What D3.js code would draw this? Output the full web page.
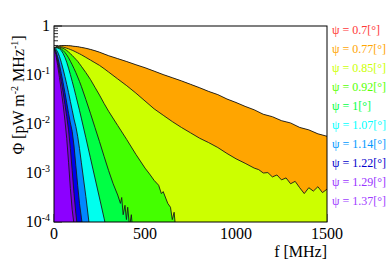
<!DOCTYPE html>
<html>
<head>
<meta charset="utf-8">
<script src="https://cdn.jsdelivr.net/npm/d3@7"></script>
<style>
  body { margin: 0; background: #fff; }
  svg { display: block; }
  text { font-family: "Liberation Serif", "DejaVu Serif", serif; }
</style>
</head>
<body>
<div id="chart"></div>
<script>
  // frequency grid [MHz] for the common low-frequency part
  var baseFreqs = [0, 10, 20, 30, 40, 50, 60, 70, 80, 90, 100, 110, 120, 130, 140, 150, 175, 200, 225, 250,
                   275, 300, 350, 400, 450, 500, 550, 600, 650, 700];

  var psiLabels = ['0.7', '0.77', '0.85', '0.92', '1', '1.07', '1.14', '1.22', '1.29', '1.37'];

  // per-series frequencies (common part + noisy tail)
  var tailWide = [750, 800, 850, 900, 950, 1000, 1050, 1100, 1150, 1200, 1250, 1300, 1350, 1400, 1450, 1500];
  var tail085 = [750, 800, 850, 900, 950, 1000, 1050, 1100, 1125, 1150, 1175, 1200, 1225, 1250, 1275, 1300,
                 1325, 1350, 1375, 1400, 1425, 1450, 1475, 1500];
  var tail092 = [525, 550, 575, 590, 600, 625, 640, 650, 660, 670, 700];
  var tail100 = [325, 350, 365, 372, 380, 390, 398, 405, 415, 425, 435, 450];

  // fluence spectra Phi [pW m^-2 MHz^-1]
  var phi070 = [0.351, 0.371, 0.383, 0.392, 0.396, 0.397, 0.397, 0.394, 0.392, 0.389, 0.384, 0.380, 0.376, 0.372, 0.366, 0.360, 0.345, 0.327, 0.307, 0.286,
                0.263, 0.242, 0.211, 0.183, 0.158, 0.137, 0.117, 0.0994, 0.0858, 0.0739,
                0.0632, 0.0535, 0.0452, 0.0385, 0.0316, 0.0267, 0.0222, 0.0188, 0.0154, 0.0136, 0.0114, 0.0101, 0.0083, 0.00735, 0.00615, 0.00545];
  var phi077 = [0.351, 0.372, 0.385, 0.394, 0.398, 0.400, 0.400, 0.398, 0.396, 0.394, 0.389, 0.385, 0.382, 0.378, 0.372, 0.366, 0.351, 0.333, 0.313, 0.292,
                0.269, 0.248, 0.216, 0.188, 0.162, 0.141, 0.120, 0.102, 0.0881, 0.0759,
                0.0646, 0.0550, 0.0462, 0.0398, 0.0324, 0.0275, 0.0229, 0.0195, 0.0158, 0.0141, 0.0117, 0.0105, 0.00851, 0.00759, 0.00631, 0.00562];
  var phi085 = [0.351, 0.367, 0.376, 0.378, 0.377, 0.372, 0.363, 0.353, 0.343, 0.331, 0.320, 0.308, 0.295, 0.283, 0.271, 0.259, 0.229, 0.202, 0.178, 0.157,
                0.135, 0.115, 0.0832, 0.0603, 0.0427, 0.0295, 0.0204, 0.0151, 0.0112, 0.00851,
                0.00661, 0.00513, 0.00417, 0.00331, 0.00251, 0.00195, 0.00158, 0.00126, 0.00117, 0.001, 0.00102, 0.000832, 0.000912, 0.000724, 0.000794, 0.000603,
                0.000676, 0.000501, 0.00038, 0.000501, 0.000427, 0.000525, 0.000398, 0.000468];
  var phi092 = [0.351, 0.363, 0.370, 0.370, 0.363, 0.351, 0.335, 0.316, 0.295, 0.272, 0.251, 0.229, 0.209, 0.191, 0.170, 0.151, 0.112, 0.0813, 0.0562, 0.0389,
                0.0263, 0.0182, 0.00933, 0.00479, 0.0024, 0.00126,
                0.000955, 0.000708, 0.000562, 0.00038, 0.000417, 0.00024, 0.0002, 0.000112, 0.000158, 6.3e-5, 2.5e-5];
  var phi100 = [0.351, 0.361, 0.363, 0.355, 0.339, 0.316, 0.288, 0.257, 0.224, 0.191, 0.162, 0.135, 0.112, 0.0912, 0.0741, 0.0589, 0.0316, 0.0166, 0.00851, 0.00437,
                0.00219, 0.00112,
                0.000603, 0.000355, 0.00024, 0.000316, 0.000141, 0.000219, 0.000112, 0.0002, 7.9e-5, 0.000141, 5e-5, 2.5e-5];
  var phi107 = [0.351, 0.357, 0.356, 0.343, 0.316, 0.275, 0.229, 0.182, 0.138, 0.102, 0.0741, 0.0537, 0.0380, 0.0269, 0.0191, 0.0132, 0.00525, 0.00204, 0.000794, 0.000309,
                0.00012, 4.5e-5, 6.3e-6];
  var phi114 = [0.351, 0.339, 0.295, 0.240, 0.182, 0.132, 0.0933, 0.0646, 0.0437, 0.0288, 0.0191, 0.0126, 0.00891, 0.00562, 0.00316, 0.00166, 0.000331, 5.6e-5, 1e-5, 2e-6];
  var phi122 = [0.351, 0.309, 0.234, 0.162, 0.107, 0.0692, 0.0437, 0.0269, 0.0166, 0.0105, 0.00708, 0.00355, 0.00141, 0.000562, 0.00024, 0.000126, 2.5e-5, 5e-6, 1e-6];
  var phi129 = [0.351, 0.282, 0.191, 0.120, 0.0741, 0.0447, 0.0251, 0.0141, 0.00759, 0.00316, 0.00112, 0.00038, 0.000151, 7.1e-5, 3.5e-5, 1.8e-5, 3.2e-6, 1e-6];
  var phi137 = [0.351, 0.263, 0.158, 0.0891, 0.0479, 0.0251, 0.0120, 0.00501, 0.00166, 0.000479, 0.000178, 8.9e-5, 4.5e-5, 2.2e-5, 1.1e-5, 5.6e-6, 1e-6];

  var allFreqs = [
    baseFreqs.concat(tailWide),
    baseFreqs.concat(tailWide),
    baseFreqs.concat(tail085),
    baseFreqs.slice(0, 26).concat(tail092),
    baseFreqs.slice(0, 22).concat(tail100),
    baseFreqs.slice(0, 23),
    baseFreqs.slice(0, 20),
    baseFreqs.slice(0, 19),
    baseFreqs.slice(0, 18),
    baseFreqs.slice(0, 17)
  ];
  var allPhi = [phi070, phi077, phi085, phi092, phi100, phi107, phi114, phi122, phi129, phi137];

  var seriesColors = ['#ff3838', '#ffa500', '#ccff00', '#44ff00', '#00ff44', '#00ffee', '#0088ff', '#0000ee', '#7a00e0', '#8c00ff'];
  var legendColors = ['#ff3838', '#ffa500', '#ccff00', '#55ff00', '#00ff44', '#00ffff', '#0099ff', '#0000cc', '#9933ff', '#a040ff'];

  var xTicks = [0, 500, 1000, 1500];
  var yTickExp = [0, -1, -2, -3, -4];

  var width = 390, height = 265;
  var margin = { left: 54, top: 26, right: 63, bottom: 43 };
  var plotW = width - margin.left - margin.right,
      plotH = height - margin.top - margin.bottom;

  var svg = d3.select('#chart').append('svg')
    .attr('width', width)
    .attr('height', height);

  var x = d3.scaleLinear().domain([0, 1500]).range([0, plotW]);
  var y = d3.scaleLog().domain([1e-4, 1]).range([plotH, 0]);

  svg.append('defs').append('clipPath').attr('id', 'plotclip')
    .append('rect').attr('width', plotW).attr('height', plotH);

  var g = svg.append('g').attr('transform', 'translate(' + margin.left + ',' + margin.top + ')');

  // inner ticks (drawn first, the fills cover most of them)
  var minorY = [];
  for (var e = -4; e < 0; e++) {
    for (var m = 2; m <= 9; m++) minorY.push(m * Math.pow(10, e));
  }
  g.selectAll('line.ymin').data(minorY).enter().append('line')
    .attr('x1', 0).attr('x2', 4)
    .attr('y1', function (d) { return y(d); }).attr('y2', function (d) { return y(d); })
    .attr('stroke', '#000').attr('stroke-width', 0.8);
  g.selectAll('line.ymaj').data(yTickExp).enter().append('line')
    .attr('x1', 0).attr('x2', 8)
    .attr('y1', function (d) { return y(Math.pow(10, d)); }).attr('y2', function (d) { return y(Math.pow(10, d)); })
    .attr('stroke', '#000').attr('stroke-width', 0.8);
  g.selectAll('line.xmaj').data(xTicks).enter().append('line')
    .attr('x1', function (d) { return x(d); }).attr('x2', function (d) { return x(d); })
    .attr('y1', plotH).attr('y2', plotH - 8)
    .attr('stroke', '#000').attr('stroke-width', 0.8);

  var area = d3.area()
    .x(function (d) { return x(d[0]); })
    .y0(plotH)
    .y1(function (d) { return y(d[1]); });
  var line = d3.line()
    .x(function (d) { return x(d[0]); })
    .y(function (d) { return y(d[1]); });

  var layers = g.append('g').attr('clip-path', 'url(#plotclip)');
  allPhi.forEach(function (vals, i) {
    var pts = allFreqs[i].map(function (f, k) { return [f, vals[k]]; });
    layers.append('path').datum(pts)
      .attr('d', area)
      .attr('fill', seriesColors[i]);
    layers.append('path').datum(pts)
      .attr('d', line)
      .attr('fill', 'none')
      .attr('stroke', '#1a1a1a')
      .attr('stroke-width', 0.9);
  });

  // frame
  g.append('rect').attr('width', plotW).attr('height', plotH)
    .attr('fill', 'none').attr('stroke', '#000').attr('stroke-width', 1);

  // x tick labels
  g.selectAll('text.xl').data(xTicks).enter().append('text')
    .attr('x', function (d) { return x(d); })
    .attr('y', plotH + 17)
    .attr('text-anchor', 'middle')
    .attr('font-size', 16)
    .text(function (d) { return d; });

  // y tick labels
  yTickExp.forEach(function (ex) {
    var t = g.append('text')
      .attr('x', -4)
      .attr('y', y(Math.pow(10, ex)) + 5)
      .attr('text-anchor', 'end')
      .attr('font-size', 16);
    if (ex === 0) {
      t.text('1');
    } else {
      t.append('tspan').text('10');
      t.append('tspan').attr('dy', -6).attr('font-size', 10).text(String(ex));
    }
  });

  // axis titles
  svg.append('text')
    .attr('x', margin.left + plotW)
    .attr('y', 257)
    .attr('text-anchor', 'end')
    .attr('font-size', 16)
    .text('f [MHz]');

  var yt = svg.append('text')
    .attr('transform', 'translate(24,' + (margin.top + 69) + ') rotate(-90)')
    .attr('text-anchor', 'middle')
    .attr('font-size', 16);
  yt.append('tspan').text('\u03a6 [pW m');
  yt.append('tspan').attr('dy', -6).attr('font-size', 10).text('-2');
  yt.append('tspan').attr('dy', 6).text(' MHz');
  yt.append('tspan').attr('dy', -6).attr('font-size', 10).text('-1');
  yt.append('tspan').attr('dy', 6).text(']');

  // legend
  svg.selectAll('text.leg').data(psiLabels).enter().append('text')
    .attr('x', 332)
    .attr('y', function (d, i) { return 34 + i * 19; })
    .attr('font-size', 12)
    .attr('fill', function (d, i) { return legendColors[i]; })
    .text(function (d) { return '\u03c8 = ' + d + '[\u00b0]'; });
</script>
</body>
</html>
